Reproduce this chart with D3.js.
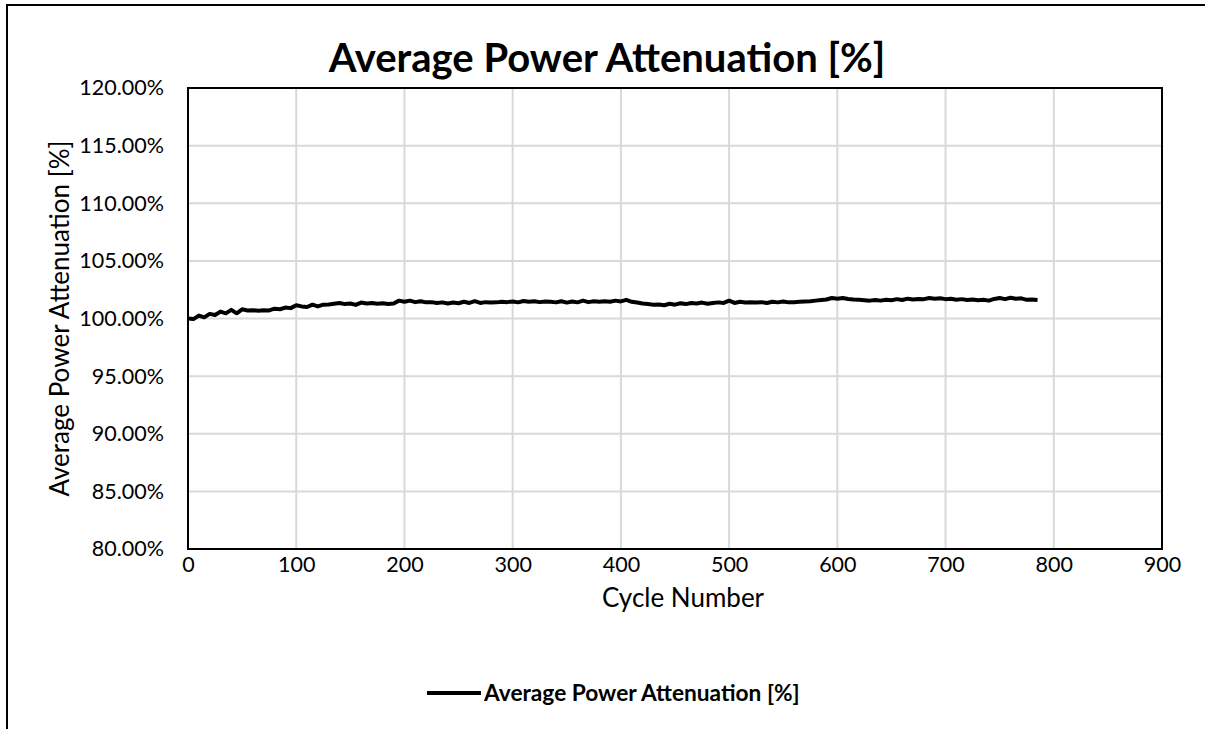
<!DOCTYPE html>
<html>
<head>
<meta charset="utf-8">
<title>Average Power Attenuation</title>
<script src="https://cdn.jsdelivr.net/npm/d3@7"></script>
<style>
  body { margin: 0; background: #fff; }
  svg text { font-family: Lato, "Open Sans", sans-serif; fill: #000; }
</style>
</head>
<body>
<svg id="chart" width="1205" height="729"></svg>
<script>
// attenuation values [%], one reading every 5 cycles starting at cycle 0
const values = [
  100.00, 99.95, 100.25, 100.10, 100.40, 100.30, 100.60, 100.45, 100.75, 100.45,
  100.80, 100.70, 100.72, 100.68, 100.72, 100.70, 100.85, 100.80, 100.95, 100.90,
  101.15, 101.05, 101.00, 101.20, 101.05, 101.20, 101.22, 101.28, 101.35, 101.25,
  101.30, 101.18, 101.38, 101.30, 101.35, 101.28, 101.32, 101.25, 101.30, 101.55,
  101.45, 101.55, 101.42, 101.50, 101.40, 101.42, 101.35, 101.40, 101.30, 101.38,
  101.32, 101.45, 101.35, 101.50, 101.35, 101.42, 101.38, 101.40, 101.45, 101.42,
  101.48, 101.40, 101.52, 101.45, 101.50, 101.42, 101.48, 101.45, 101.40, 101.50,
  101.38, 101.48, 101.40, 101.55, 101.42, 101.50, 101.45, 101.50, 101.45, 101.55,
  101.48, 101.62, 101.45, 101.38, 101.30, 101.25, 101.20, 101.22, 101.15, 101.28,
  101.20, 101.32, 101.25, 101.35, 101.30, 101.38, 101.28, 101.35, 101.40, 101.35,
  101.55, 101.35, 101.45, 101.38, 101.40, 101.38, 101.42, 101.35, 101.45, 101.40,
  101.48, 101.40, 101.42, 101.45, 101.48, 101.50, 101.55, 101.60, 101.65, 101.78,
  101.72, 101.78, 101.70, 101.65, 101.62, 101.58, 101.55, 101.60, 101.55, 101.62,
  101.58, 101.68, 101.60, 101.72, 101.65, 101.70, 101.68, 101.78, 101.72, 101.75,
  101.68, 101.72, 101.62, 101.68, 101.60, 101.65, 101.58, 101.62, 101.55, 101.70,
  101.78, 101.68, 101.80, 101.72, 101.75, 101.62, 101.65, 101.60
];
const cycleStep = 5;
const cycles = values.map((v, i) => i * cycleStep);

const xTicks = [0, 100, 200, 300, 400, 500, 600, 700, 800, 900];
const yTicks = [80, 85, 90, 95, 100, 105, 110, 115, 120];

const titleText = "Average Power Attenuation [%]";
const xTitle = "Cycle Number";
const yTitle = "Average Power Attenuation [%]";
const seriesName = "Average Power Attenuation [%]";

const svg = d3.select("#chart");
const plot = { left: 188, right: 1162, top: 88, bottom: 549 };

// outer chart frame (runs off the right and bottom of the picture)
svg.append("rect")
  .attr("x", 7).attr("y", 5).attr("width", 1400).attr("height", 900)
  .attr("fill", "none").attr("stroke", "#000").attr("stroke-width", 2);

const x = d3.scaleLinear().domain([0, 900]).range([plot.left, plot.right]);
const y = d3.scaleLinear().domain([80, 120]).range([plot.bottom, plot.top]);

// gridlines
svg.append("g").selectAll("line").data(xTicks.slice(1, -1)).join("line")
  .attr("x1", d => x(d)).attr("x2", d => x(d))
  .attr("y1", plot.top).attr("y2", plot.bottom)
  .attr("stroke", "#d9d9d9").attr("stroke-width", 2);
svg.append("g").selectAll("line").data(yTicks.slice(1, -1)).join("line")
  .attr("x1", plot.left).attr("x2", plot.right)
  .attr("y1", d => y(d)).attr("y2", d => y(d))
  .attr("stroke", "#d9d9d9").attr("stroke-width", 2);

// axes, labels only (the frame is drawn as a box)
const xAxis = svg.append("g")
  .attr("transform", `translate(0,${plot.bottom})`)
  .call(d3.axisBottom(x).tickValues(xTicks).tickSize(0).tickPadding(8));
const yAxis = svg.append("g")
  .attr("transform", `translate(${plot.left},0)`)
  .call(d3.axisLeft(y).tickValues(yTicks).tickSize(0).tickPadding(24)
    .tickFormat(d => d.toFixed(2) + "%"));
[xAxis, yAxis].forEach(a => {
  a.select(".domain").remove();
  a.selectAll("text").style("font-size", "21.5px").style("font-family", "Lato, sans-serif");
});

svg.append("rect")
  .attr("x", plot.left).attr("y", plot.top)
  .attr("width", plot.right - plot.left).attr("height", plot.bottom - plot.top)
  .attr("fill", "none").attr("stroke", "#000").attr("stroke-width", 2);

// series
const line = d3.line().x((d, i) => x(cycles[i])).y(d => y(d));
svg.append("path").datum(values)
  .attr("d", line)
  .attr("fill", "none").attr("stroke", "#000").attr("stroke-width", 4)
  .attr("stroke-linejoin", "round");

// titles
svg.append("text").attr("x", 607).attr("y", 72)
  .attr("text-anchor", "middle").style("font-size", "40px").style("font-weight", "bold")
  .text(titleText);
svg.append("text").attr("x", 683).attr("y", 607)
  .attr("text-anchor", "middle").style("font-size", "26px")
  .text(xTitle);
svg.append("text")
  .attr("transform", `translate(69,${(plot.top + plot.bottom) / 2}) rotate(-90)`)
  .attr("text-anchor", "middle").style("font-size", "26px")
  .text(yTitle);

// legend
const lg = svg.append("g").attr("transform", "translate(427,693)");
lg.append("line").attr("x1", 0).attr("x2", 54).attr("y1", 0).attr("y2", 0)
  .attr("stroke", "#000").attr("stroke-width", 4);
lg.append("text").attr("x", 57).attr("y", 7.5)
  .style("font-size", "22.7px").style("font-weight", "bold")
  .text(seriesName);
</script>
</body>
</html>
